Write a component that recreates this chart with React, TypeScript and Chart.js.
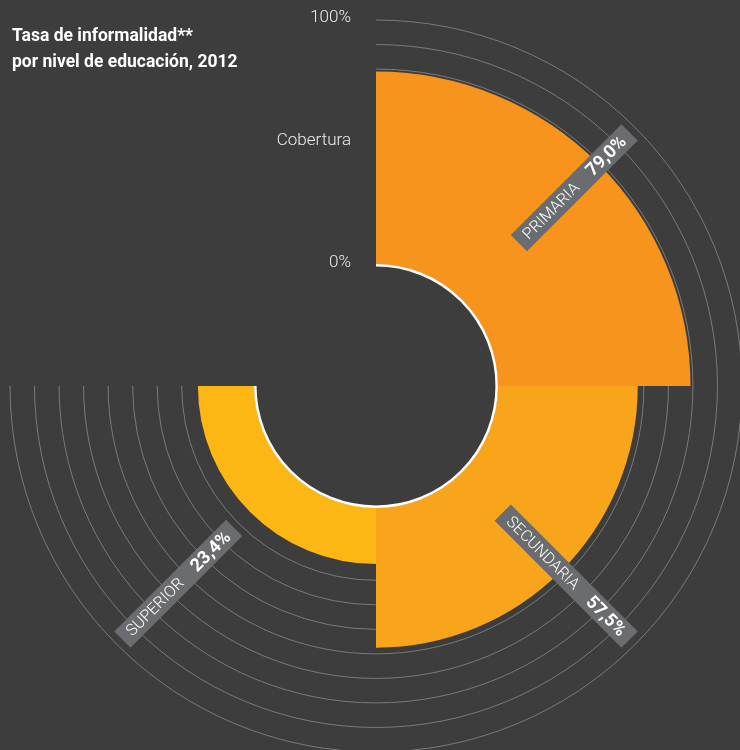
import { useEffect, useRef } from 'react';
import { Chart, registerables } from 'chart.js';

Chart.register(...registerables);

// ---- data ----
const CATEGORIES = ['PRIMARIA', 'SECUNDARIA', 'SUPERIOR', ''];
const VALUES = [79.0, 57.5, 23.4, 0];
const VALUE_LABELS = ['79,0%', '57,5%', '23,4%', ''];
const GRID_TICKS = [10, 20, 30, 40, 50, 60, 70, 80, 90, 100];
const AXIS_TICK_VALUES = [0, 50, 100];
const AXIS_TICK_LABELS = ['0%', 'Cobertura', '100%'];
const TITLE_LINES = ['Tasa de informalidad**', 'por nivel de educación, 2012'];
const SCALE_MIN = -49.2;
const SCALE_MAX = 100;
const LABEL_OUTER_VALUE = 97;

// ---- styles ----
const BG = '#3d3d3d';
const COLORS = ['#F7941D', '#F8A51C', '#FDB714', 'rgba(0,0,0,0)'];
const GRID_COLOR = '#7b7b7b';
const BOX_COLOR = '#6b6c6f';
const BOX_THICK = 23;
const BOX_PAD = 9;
const BOX_GAP = 17;
const NAME_FONT = '300 16px Roboto';
const VALUE_FONT = 'bold 18px Roboto';

const decorPlugin = {
  id: 'decor',
  beforeDatasetsDraw(chart: any) {
    const ctx = chart.ctx;
    const r = chart.scales.r;
    const cx = r.xCenter;
    const cy = r.yCenter;
    ctx.save();
    ctx.strokeStyle = GRID_COLOR;
    ctx.lineWidth = 1;
    for (const t of GRID_TICKS) {
      const d = r.getDistanceFromCenterForValue(t);
      ctx.beginPath();
      ctx.arc(cx, cy, d, -Math.PI / 2, Math.PI);
      ctx.stroke();
    }
    ctx.restore();
  },
  afterDatasetsDraw(chart: any) {
    const ctx = chart.ctx;
    const r = chart.scales.r;
    const cx = r.xCenter;
    const cy = r.yCenter;
    ctx.save();
    // center hole
    const d0 = r.getDistanceFromCenterForValue(0);
    ctx.beginPath();
    ctx.arc(cx, cy, d0 + 1, 0, Math.PI * 2);
    ctx.fillStyle = BG;
    ctx.fill();
    ctx.beginPath();
    ctx.arc(cx, cy, d0, -Math.PI / 2, Math.PI);
    ctx.lineWidth = 2.5;
    ctx.strokeStyle = '#ffffff';
    ctx.stroke();

    // axis labels
    ctx.font = '300 17px Roboto';
    ctx.fillStyle = '#ececec';
    ctx.textAlign = 'right';
    ctx.textBaseline = 'alphabetic';
    AXIS_TICK_VALUES.forEach((v, i) => {
      const y = cy - r.getDistanceFromCenterForValue(v) + 2;
      ctx.fillText(AXIS_TICK_LABELS[i], cx - 25, y);
    });

    // rotated labels
    const meta = chart.getDatasetMeta(0);
    const rOut = r.getDistanceFromCenterForValue(LABEL_OUTER_VALUE);
    meta.data.forEach((arc: any, i: number) => {
      if (!CATEGORIES[i]) return;
      const { startAngle, endAngle } = arc.getProps(['startAngle', 'endAngle'], true);
      const mid = (startAngle + endAngle) / 2;
      ctx.font = NAME_FONT;
      const wName = ctx.measureText(CATEGORIES[i]).width;
      ctx.font = VALUE_FONT;
      const wVal = ctx.measureText(VALUE_LABELS[i]).width;
      const L = BOX_PAD * 2 + wName + BOX_GAP + wVal;
      const rMid = rOut - L / 2;
      const bx = cx + rMid * Math.cos(mid);
      const by = cy + rMid * Math.sin(mid);
      const outward = Math.cos(mid) >= 0;
      ctx.save();
      ctx.translate(bx, by);
      ctx.rotate(outward ? mid : mid - Math.PI);
      ctx.fillStyle = BOX_COLOR;
      ctx.fillRect(-L / 2, -BOX_THICK / 2, L, BOX_THICK);
      ctx.fillStyle = '#ffffff';
      ctx.textAlign = 'left';
      ctx.textBaseline = 'middle';
      ctx.font = NAME_FONT;
      ctx.fillText(CATEGORIES[i], -L / 2 + BOX_PAD, 1);
      ctx.font = VALUE_FONT;
      ctx.fillText(VALUE_LABELS[i], -L / 2 + BOX_PAD + wName + BOX_GAP, 1);
      ctx.restore();
    });

    // title
    ctx.font = 'bold 17.5px Roboto';
    ctx.fillStyle = '#ffffff';
    ctx.textAlign = 'left';
    ctx.textBaseline = 'alphabetic';
    ctx.fillText(TITLE_LINES[0], 12, 41);
    ctx.fillText(TITLE_LINES[1], 12, 67);
    ctx.restore();
  },
};

export default function App() {
  const ref = useRef<HTMLCanvasElement>(null);
  useEffect(() => {
    const chart = new Chart(ref.current as HTMLCanvasElement, {
      type: 'polarArea',
      data: {
        labels: CATEGORIES,
        datasets: [
          {
            data: VALUES,
            backgroundColor: COLORS,
            borderWidth: 0,
          },
        ],
      },
      options: {
        responsive: false,
        animation: false,
        devicePixelRatio: 1,
        layout: { padding: { left: 10, right: 18, top: 20, bottom: 28 } },
        plugins: {
          legend: { display: false },
          tooltip: { enabled: false },
          title: { display: false },
        },
        scales: {
          r: {
            min: SCALE_MIN,
            max: SCALE_MAX,
            ticks: { display: false },
            grid: { display: false },
            angleLines: { display: false },
            pointLabels: { display: false },
          },
        },
      },
      plugins: [decorPlugin],
    } as any);
    return () => chart.destroy();
  }, []);
  return (
    <div
      style={{
        position: 'fixed',
        left: 0,
        top: 0,
        width: 740,
        height: 750,
        overflow: 'hidden',
        background: BG,
      }}
    >
      <canvas ref={ref} width={760} height={780} style={{ display: 'block' }} />
    </div>
  );
}
